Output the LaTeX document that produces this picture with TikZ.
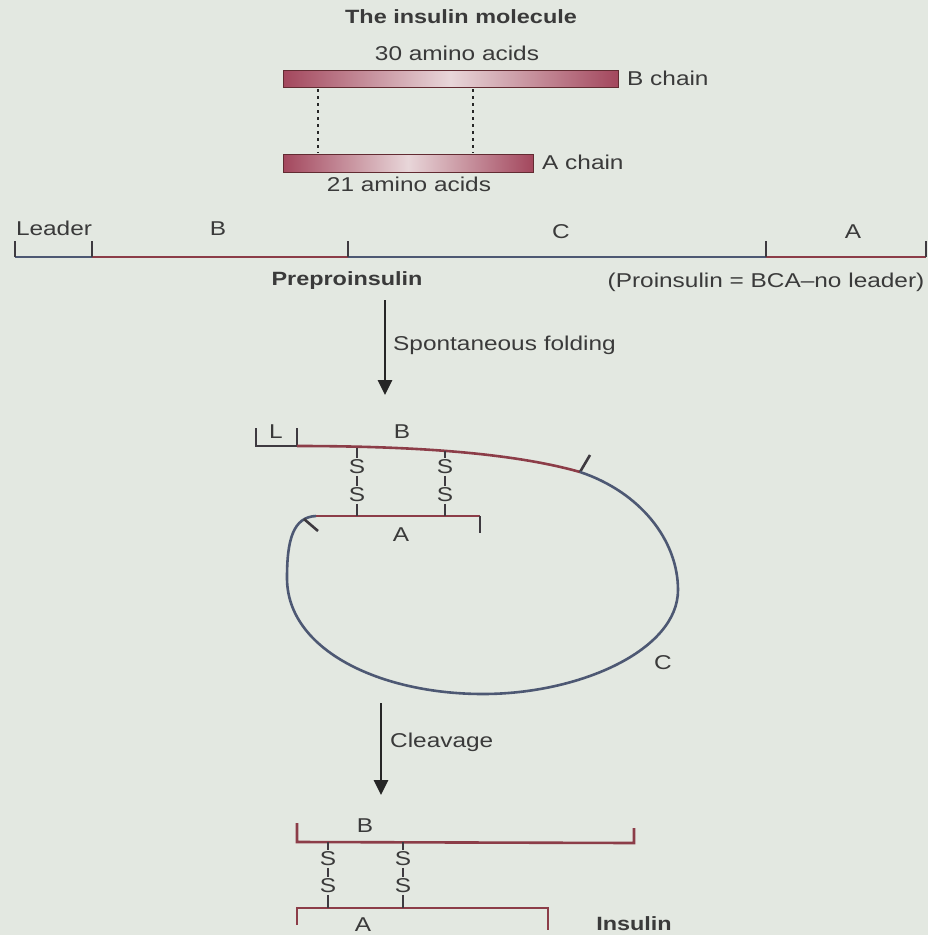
\documentclass[tikz,border=0pt]{standalone}
\usepackage{fontspec}
\setmainfont[FakeStretch=1.22]{Liberation Sans}
\usetikzlibrary{arrows.meta}
\definecolor{bg}{HTML}{E3E8E1}
\definecolor{redl}{HTML}{8C3D48}
\definecolor{bluel}{HTML}{4D5873}
\definecolor{tickc}{HTML}{3E3A40}
\definecolor{txt}{HTML}{3A3A3A}
\definecolor{barD}{HTML}{A3475D}
\definecolor{barL}{HTML}{E8D6D9}
\begin{document}
\begin{tikzpicture}[x=1pt,y=-1pt,
  font=\fontsize{20}{23}\selectfont,
  every node/.style={text=txt, inner sep=0pt},
  boldlbl/.style={font=\fontsize{19.2}{22}\selectfont\bfseries},
  redseg/.style={draw=redl, line width=2.6pt},
  blueseg/.style={draw=bluel, line width=2.6pt},
  tickseg/.style={draw=tickc, line width=2.6pt},
  bondline/.style={draw=tickc, line width=2pt},
  snode/.style={inner sep=1.5pt},
  chainbar/.style={draw=redl!70!black, line width=0.6pt, left color=barD, right color=barD, middle color=barL},
  dotline/.style={draw=black!85, line width=2.6pt, dash pattern=on 3pt off 4pt},
  bigarrow/.style={draw=black!85, line width=2.8pt, -{Triangle[width=14pt,length=15pt]}}]
\fill[bg] (0,0) rectangle (928,935);
\useasboundingbox (0,0) rectangle (928,935);

% --- The insulin molecule ---
\node[boldlbl] (title) at (461,17) {The insulin molecule};
\node (bcount) at (457,53) {30 amino acids};
\shade[chainbar] (283,70) rectangle (618,87);
\node[anchor=west] (bchain) at (627,78) {B chain};
\shade[chainbar] (283,154) rectangle (533,172);
\node[anchor=west] (achain) at (542,162) {A chain};
\node (acount) at (409,184) {21 amino acids};
\coordinate (d1t) at (318,89); \coordinate (d1b) at (318,153);
\coordinate (d2t) at (473,89); \coordinate (d2b) at (473,153);
\draw[dotline] (d1t) -- (d1b);
\draw[dotline] (d2t) -- (d2b);

% --- Preproinsulin ---
\coordinate (p0) at (15,257); \coordinate (p1) at (92,257);
\coordinate (p2) at (348,257); \coordinate (p3) at (766,257);
\coordinate (p4) at (926,257);
\draw[blueseg] (p0) -- (p1);
\draw[redseg] (p1) -- (p2);
\draw[blueseg] (p2) -- (p3);
\draw[redseg] (p3) -- (p4);
\foreach \p in {p0,p1,p2,p3,p4} \draw[tickseg] (\p) -- ++(0,-16);
\node (leader) at (54,228) {Leader};
\node (lB) at (218,229) {B};
\node (lC) at (561,232) {C};
\node (lA) at (853,232) {A};
\node[boldlbl] (prepro) at (347,281) {Preproinsulin};
\node (pro) at (766,282) {(Proinsulin = BCA–no leader)};

% --- Arrow 1 ---
\coordinate (a1s) at (385,300); \coordinate (a1e) at (385,395);
\draw[bigarrow] (a1s) -- (a1e);
\node[anchor=west] (fold) at (393,345) {Spontaneous folding};

% --- Folded proinsulin ---
\coordinate (Lst) at (256,428); \coordinate (Lc) at (256,446);
\coordinate (Lend) at (297,446);
\draw[tickseg, line join=miter] (Lst) -- (Lc) -- (Lend);
\draw[tickseg] (Lend) -- ++(0,-18);
\node (lL) at (276,432) {L};
\coordinate (Bend) at (580,472);
\draw[redseg] (Lend) .. controls (430,446) and (520,455) .. (Bend);
\draw[tickseg] (Bend) -- (590,455);
\coordinate (Ast) at (316,516); \coordinate (Aend) at (480,516);
\draw[blueseg] (Bend) .. controls (640,492) and (678,540) .. (678,590)
   .. controls (678,650) and (580,694) .. (483,694)
   .. controls (380,694) and (287,650) .. (287,578)
   .. controls (287,540) and (293,517) .. (Ast);
\draw[tickseg] (304,519) -- (318,531);
\draw[redseg] (Ast) -- (Aend);
\draw[tickseg] (Aend) -- ++(0,17);
\node (fB) at (402,432) {B};
\node (fA) at (401,535) {A};
\node (fC) at (663,663) {C};
% S-S bonds
\foreach \x/\yb/\n in {357/448/u, 445/451/v}{
  \coordinate (bt\n) at (\x,\yb);
  \coordinate (ab\n) at (\x,516);
  \node[snode] (s1\n) at (\x,467) {S};
  \node[snode] (s2\n) at (\x,495) {S};
  \draw[bondline] (bt\n) -- (s1\n.north);
  \draw[bondline] (s1\n.south) -- (s2\n.north);
  \draw[bondline] (s2\n.south) -- (ab\n);
}

% --- Arrow 2 ---
\coordinate (a2s) at (381,703); \coordinate (a2e) at (381,795);
\draw[bigarrow] (a2s) -- (a2e);
\node[anchor=west] (cleav) at (390,742) {Cleavage};

% --- Insulin ---
\coordinate (ib0) at (297,823); \coordinate (ib1) at (297,842);
\coordinate (ib2) at (634,843); \coordinate (ib3) at (634,828);
\draw[redseg, line join=miter] (ib0) -- (ib1) -- (ib2) -- (ib3);
\coordinate (ia0) at (297,925); \coordinate (ia1) at (297,908);
\coordinate (ia2) at (548,908); \coordinate (ia3) at (548,930);
\draw[redseg, line join=miter] (ia0) -- (ia1) -- (ia2) -- (ia3);
\node (iB) at (365,826) {B};
\node (iA) at (363,925) {A};
\node[boldlbl] (insulin) at (634,924) {Insulin};
\foreach \x/\n in {328/p, 403/q}{
  \coordinate (ibt\n) at (\x,842);
  \coordinate (iab\n) at (\x,908);
  \node[snode] (is1\n) at (\x,859) {S};
  \node[snode] (is2\n) at (\x,886) {S};
  \draw[bondline] (ibt\n) -- (is1\n.north);
  \draw[bondline] (is1\n.south) -- (is2\n.north);
  \draw[bondline] (is2\n.south) -- (iab\n);
}
\end{tikzpicture}
\end{document}
